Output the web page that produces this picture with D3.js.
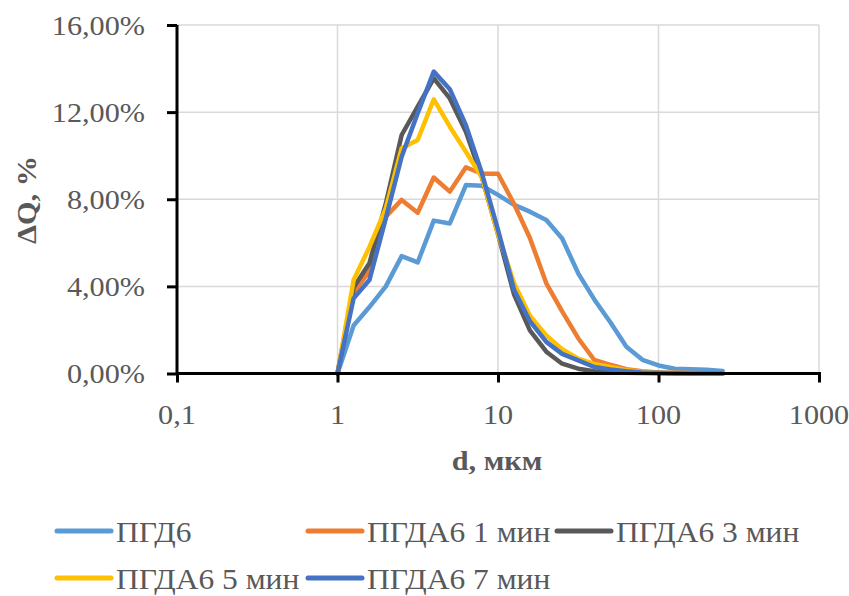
<!DOCTYPE html>
<html>
<head>
<meta charset="utf-8">
<script src="https://cdn.jsdelivr.net/npm/d3@7"></script>
<style>
  html, body { margin: 0; padding: 0; background: #fff; }
  svg { display: block; }
  text { font-family: "Liberation Serif", "Times New Roman", serif; }
</style>
</head>
<body>
<svg id="chart" width="849" height="596"></svg>
<script>
// ---- data ----
const sizes = [1, 1.26, 1.58, 2, 2.51, 3.16, 3.98, 5.01, 6.31, 7.94, 10, 12.6, 15.8, 20, 25.1, 31.6, 39.8, 50.1, 63.1, 79.4, 100, 126, 158, 200, 251];
const seriesNames = ["ПГД6", "ПГДА6 1 мин", "ПГДА6 3 мин", "ПГДА6 5 мин", "ПГДА6 7 мин"];
const seriesColors = ["#5B9BD5", "#ED7D31", "#595959", "#FFC000", "#4472C4"];
const pgd6  = [0, 2.2, 3.05, 4.0, 5.39, 5.1, 7.02, 6.89, 8.65, 8.62, 8.2, 7.74, 7.43, 7.05, 6.2, 4.6, 3.4, 2.35, 1.23, 0.63, 0.37, 0.22, 0.2, 0.17, 0.12];
const pgda1 = [0, 3.7, 4.7, 7.2, 7.97, 7.38, 9.0, 8.35, 9.47, 9.17, 9.17, 7.78, 6.22, 4.14, 2.85, 1.62, 0.62, 0.4, 0.2, 0.1, 0.05, 0.03, 0.02, 0.01, 0];
const pgda3 = [0, 3.95, 5.06, 7.81, 10.95, 12.25, 13.55, 12.63, 11.1, 9.0, 6.4, 3.62, 1.98, 1.0, 0.45, 0.22, 0.1, 0.05, 0.03, 0.02, 0.01, 0, 0, 0, 0];
const pgda5 = [0, 4.29, 5.8, 7.58, 10.34, 10.72, 12.59, 11.33, 10.18, 9.0, 6.4, 4.14, 2.65, 1.75, 1.12, 0.68, 0.44, 0.3, 0.15, 0.08, 0.04, 0.02, 0.01, 0, 0];
const pgda7 = [0, 3.45, 4.29, 7.12, 9.95, 11.95, 13.86, 13.05, 11.4, 9.19, 6.6, 3.83, 2.4, 1.45, 0.9, 0.6, 0.3, 0.18, 0.1, 0.05, 0.03, 0.01, 0, 0, 0];
const xTicks = [0.1, 1, 10, 100, 1000];
const xTickLabels = ["0,1", "1", "10", "100", "1000"];
const yTicks = [0, 4, 8, 12, 16];
const yTickLabels = ["0,00%", "4,00%", "8,00%", "12,00%", "16,00%"];
const xTitle = "d, мкм";
const yTitle = "ΔQ, %";

const allSeries = [pgd6, pgda1, pgda3, pgda5, pgda7];

// ---- layout ----
const svg = d3.select("#chart");
const pL = 177, pR = 819, pT = 25, pB = 373.5;
const x = d3.scaleLog().domain([0.1, 1000]).range([pL, pR]);
const y = d3.scaleLinear().domain([0, 16]).range([pB, pT]);
const textColor = "#595959";
const sx = 1.12; // horizontal stretch of text as in reference

// gridlines
const grid = svg.append("g");
grid.selectAll("line.h").data(yTicks.filter(d => d > 0)).join("line")
  .attr("class", "h")
  .attr("x1", pL).attr("x2", pR)
  .attr("y1", d => y(d)).attr("y2", d => y(d))
  .attr("stroke", "#d9d9d9").attr("stroke-width", 1.5);
grid.selectAll("line.v").data(xTicks.filter(d => d > 0.1)).join("line")
  .attr("class", "v")
  .attr("x1", d => x(d)).attr("x2", d => x(d))
  .attr("y1", pT).attr("y2", pB)
  .attr("stroke", "#d9d9d9").attr("stroke-width", 1.5);

// lines
const line = d3.line().x((d, i) => x(sizes[i])).y(d => y(d));
svg.append("g").selectAll("path").data(allSeries).join("path")
  .attr("d", d => line(d))
  .attr("fill", "none")
  .attr("stroke", (d, i) => seriesColors[i])
  .attr("stroke-width", 4.5)
  .attr("stroke-linejoin", "round")
  .attr("stroke-linecap", "round");

// axes
const yAxis = d3.axisLeft(y).tickValues(yTicks).tickSize(10).tickFormat("");
const xAxis = d3.axisBottom(x).tickValues(xTicks).tickSize(9).tickFormat("");
const gy = svg.append("g").attr("transform", `translate(${pL},0)`).call(yAxis);
const gx = svg.append("g").attr("transform", `translate(0,${pB})`).call(xAxis);
[gx, gy].forEach(g => {
  g.select(".domain").attr("stroke", "#000").attr("stroke-width", 3);
  g.selectAll(".tick line").attr("stroke", "#000").attr("stroke-width", 3);
});
gy.select(".domain").attr("d", `M0,${pT}V${pB}`);
gx.select(".domain").attr("d", `M${pL - 1},0H${pR + 2}`);

// tick labels
svg.append("g").selectAll("text").data(yTicks).join("text")
  .attr("transform", (d) => `translate(145,${y(d) + 9.5}) scale(${sx},1)`)
  .attr("text-anchor", "end")
  .attr("font-size", 27).attr("fill", textColor)
  .text((d, i) => yTickLabels[i]);
svg.append("g").selectAll("text").data(xTicks).join("text")
  .attr("transform", (d) => `translate(${x(d)},424) scale(${sx},1)`)
  .attr("text-anchor", "middle")
  .attr("font-size", 27).attr("fill", textColor)
  .text((d, i) => xTickLabels[i]);

// axis titles
svg.append("text")
  .attr("transform", `translate(497,470) scale(${sx},1)`)
  .attr("text-anchor", "middle").attr("font-weight", "bold")
  .attr("font-size", 27).attr("fill", textColor)
  .text(xTitle);
svg.append("text")
  .attr("transform", `translate(36,200) rotate(-90) scale(${sx},1)`)
  .attr("text-anchor", "middle").attr("font-weight", "bold")
  .attr("font-size", 27).attr("fill", textColor)
  .text(yTitle);

// legend
const legendPos = [[57, 531], [308, 531], [557, 531], [57, 578], [308, 578]];
const lg = svg.append("g").selectAll("g").data(seriesNames).join("g")
  .attr("transform", (d, i) => `translate(${legendPos[i][0]},${legendPos[i][1]})`);
lg.append("line").attr("x1", 0).attr("x2", 54).attr("y1", 0).attr("y2", 0)
  .attr("stroke", (d, i) => seriesColors[i]).attr("stroke-width", 5)
  .attr("stroke-linecap", "round");
lg.append("text")
  .attr("transform", `translate(59,10.5) scale(1.05,1)`)
  .attr("font-size", 30).attr("fill", textColor)
  .text(d => d);
</script>
</body>
</html>
